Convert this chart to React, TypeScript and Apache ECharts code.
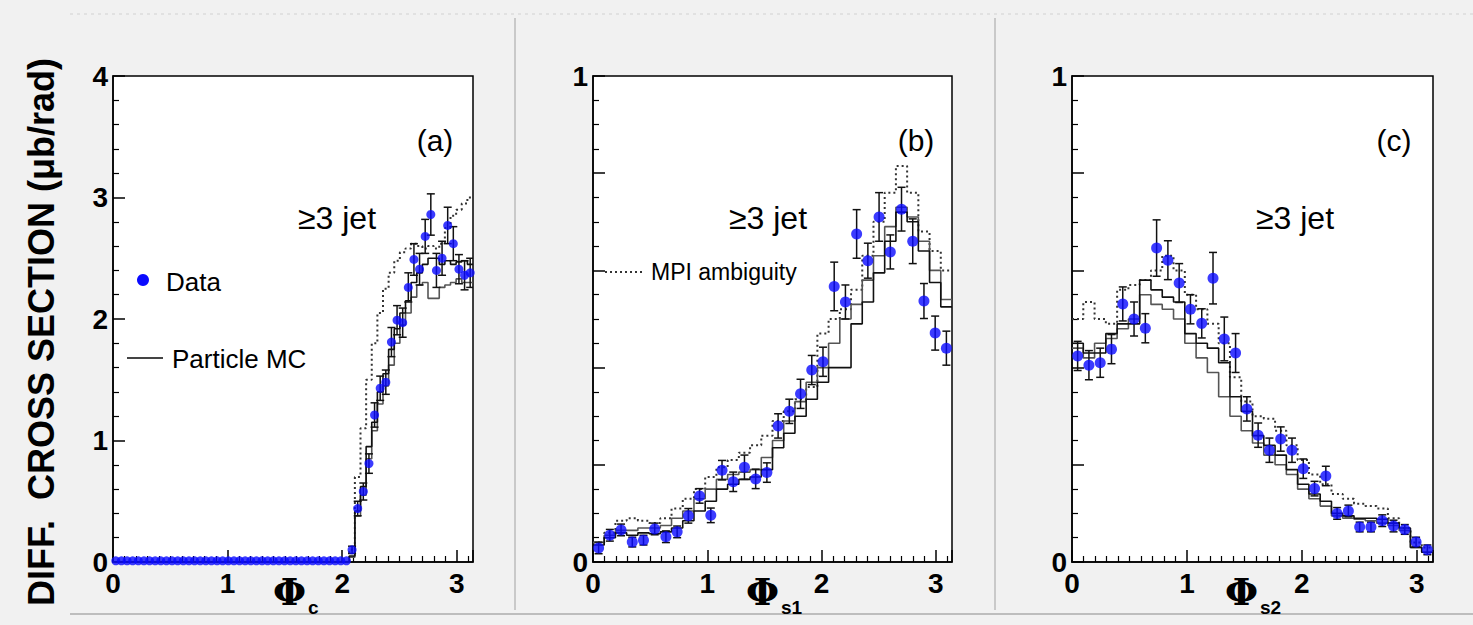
import React, { useEffect, useRef } from "react";
import * as echarts from "echarts";

const PHI_MAX = Math.PI;

// ---- panel (a): Phi_c, 64 bins ----
const dataA = [
  0.01, 0.01, 0.01, 0.01, 0.01, 0.01, 0.01, 0.01, 0.01, 0.01,
  0.01, 0.01, 0.01, 0.01, 0.01, 0.01, 0.01, 0.01, 0.01, 0.01,
  0.01, 0.01, 0.01, 0.01, 0.01, 0.01, 0.01, 0.01, 0.01, 0.01,
  0.01, 0.01, 0.01, 0.01, 0.01, 0.01, 0.01, 0.01, 0.01, 0.01,
  0.01, 0.01, 0.10, 0.44, 0.58, 0.81, 1.21, 1.43, 1.48, 1.81,
  1.99, 1.97, 2.26, 2.49, 2.41, 2.68, 2.86, 2.40, 2.50, 2.77,
  2.62, 2.41, 2.36, 2.38,
];
const errA = [
  0, 0, 0, 0, 0, 0, 0, 0, 0, 0,
  0, 0, 0, 0, 0, 0, 0, 0, 0, 0,
  0, 0, 0, 0, 0, 0, 0, 0, 0, 0,
  0, 0, 0, 0, 0, 0, 0, 0, 0, 0,
  0, 0, 0.03, 0.06, 0.07, 0.08, 0.10, 0.10, 0.10, 0.12,
  0.12, 0.12, 0.12, 0.13, 0.13, 0.14, 0.17, 0.14, 0.14, 0.15,
  0.14, 0.12, 0.12, 0.12,
];
const mcA = [
  0, 0, 0, 0, 0, 0, 0, 0, 0, 0,
  0, 0, 0, 0, 0, 0, 0, 0, 0, 0,
  0, 0, 0, 0, 0, 0, 0, 0, 0, 0,
  0, 0, 0, 0, 0, 0, 0, 0, 0, 0,
  0, 0, 0.05, 0.42, 0.62, 0.95, 1.15, 1.40, 1.55, 1.75,
  1.92, 2.05, 2.15, 2.30, 2.38, 2.45, 2.50, 2.50, 2.45, 2.48,
  2.45, 2.47, 2.48, 2.45,
];
const mc2A = [
  0, 0, 0, 0, 0, 0, 0, 0, 0, 0,
  0, 0, 0, 0, 0, 0, 0, 0, 0, 0,
  0, 0, 0, 0, 0, 0, 0, 0, 0, 0,
  0, 0, 0, 0, 0, 0, 0, 0, 0, 0,
  0, 0, 0.04, 0.38, 0.55, 0.85, 1.08, 1.30, 1.45, 1.62,
  1.80, 1.95, 2.05, 2.18, 2.28, 2.30, 2.17, 2.17, 2.26, 2.28,
  2.30, 2.33, 2.30, 2.30,
];
const mpiA = [
  0, 0, 0, 0, 0, 0, 0, 0, 0, 0,
  0, 0, 0, 0, 0, 0, 0, 0, 0, 0,
  0, 0, 0, 0, 0, 0, 0, 0, 0, 0,
  0, 0, 0, 0, 0, 0, 0, 0, 0, 0,
  0, 0, 0.10, 0.70, 1.10, 1.50, 1.80, 2.05, 2.25, 2.38,
  2.48, 2.55, 2.58, 2.62, 2.60, 2.58, 2.60, 2.58, 2.62, 2.75,
  2.85, 2.90, 2.95, 3.00,
];

// ---- panel (b): Phi_s1, 32 bins ----
const dataB = [
  0.029, 0.055, 0.066, 0.041, 0.045, 0.068, 0.052, 0.062, 0.095, 0.136,
  0.096, 0.189, 0.165, 0.195, 0.171, 0.184, 0.28, 0.31, 0.346, 0.395,
  0.412, 0.567, 0.535, 0.675, 0.62, 0.71, 0.638, 0.726, 0.66, 0.537,
  0.471, 0.44,
];
const errB = [
  0.012, 0.012, 0.012, 0.01, 0.01, 0.012, 0.012, 0.012, 0.015, 0.015,
  0.015, 0.02, 0.02, 0.025, 0.02, 0.02, 0.025, 0.025, 0.03, 0.03,
  0.03, 0.05, 0.035, 0.05, 0.036, 0.05, 0.035, 0.045, 0.046, 0.036,
  0.035, 0.035,
];
const mcB = [
  0.035, 0.05, 0.06, 0.055, 0.06, 0.058, 0.062, 0.07, 0.085, 0.105,
  0.125, 0.15, 0.16, 0.17, 0.175, 0.19, 0.235, 0.265, 0.30, 0.335,
  0.37, 0.40, 0.40, 0.49, 0.535, 0.595, 0.66, 0.72, 0.70, 0.64,
  0.575, 0.525,
];
const mc2B = [
  0.04, 0.055, 0.065, 0.065, 0.07, 0.07, 0.075, 0.09, 0.105, 0.13,
  0.15, 0.17, 0.18, 0.185, 0.19, 0.215, 0.25, 0.29, 0.33, 0.37,
  0.40, 0.45, 0.50, 0.53, 0.58, 0.63, 0.69, 0.73, 0.71, 0.66,
  0.60, 0.54,
];
const mpiB = [
  0.04, 0.06, 0.085, 0.09, 0.085, 0.08, 0.09, 0.11, 0.13, 0.15,
  0.175, 0.195, 0.21, 0.225, 0.24, 0.26, 0.29, 0.31, 0.335, 0.36,
  0.47, 0.50, 0.52, 0.56, 0.63, 0.70, 0.76, 0.815, 0.76, 0.68,
  0.64, 0.60,
];

// ---- panel (c): Phi_s2, 32 bins ----
const dataC = [
  0.424, 0.405, 0.41, 0.438, 0.531, 0.50, 0.481, 0.646, 0.621, 0.574,
  0.52, 0.491, 0.584, 0.459, 0.43, 0.315, 0.261, 0.23, 0.253, 0.23,
  0.192, 0.151, 0.177, 0.10, 0.105, 0.072, 0.072, 0.085, 0.074, 0.067,
  0.041, 0.025,
];
const errC = [
  0.03, 0.03, 0.03, 0.03, 0.035, 0.035, 0.03, 0.058, 0.04, 0.04,
  0.03, 0.03, 0.053, 0.045, 0.04, 0.025, 0.025, 0.025, 0.025, 0.025,
  0.02, 0.015, 0.02, 0.012, 0.012, 0.01, 0.01, 0.012, 0.012, 0.01,
  0.01, 0.01,
];
const mcC = [
  0.45, 0.43, 0.43, 0.47, 0.49, 0.49, 0.58, 0.56, 0.545, 0.535,
  0.47, 0.45, 0.44, 0.41, 0.34, 0.31, 0.26, 0.24, 0.22, 0.19,
  0.16, 0.14, 0.125, 0.10, 0.095, 0.09, 0.09, 0.088, 0.08, 0.07,
  0.03, 0.02,
];
const mc2C = [
  0.44, 0.42, 0.45, 0.46, 0.48, 0.50, 0.55, 0.53, 0.52, 0.50,
  0.45, 0.42, 0.39, 0.34, 0.30, 0.27, 0.245, 0.22, 0.20, 0.18,
  0.15, 0.13, 0.115, 0.095, 0.09, 0.088, 0.085, 0.08, 0.075, 0.065,
  0.03, 0.02,
];
const mpiC = [
  0.50, 0.535, 0.50, 0.49, 0.56, 0.57, 0.58, 0.60, 0.63, 0.60,
  0.55, 0.52, 0.49, 0.45, 0.38, 0.33, 0.30, 0.295, 0.27, 0.24,
  0.21, 0.18, 0.16, 0.14, 0.13, 0.12, 0.115, 0.11, 0.09, 0.07,
  0.04, 0.03,
];

const Y_TICKS_A = [0, 1, 2, 3, 4];
const Y_TICKS_BC = [0, 1];
const X_TICKS = [0, 1, 2, 3];

const FONT = '"Liberation Sans", Arial, sans-serif';
const BLUE = "#0a0aff";

// histogram outline: one point per left bin edge plus the closing edge
function stepPoints(values: number[]) {
  const w = PHI_MAX / values.length;
  const pts = values.map((v, i) => [i * w, v]);
  pts.push([PHI_MAX, values[values.length - 1]]);
  return pts;
}
function centerPoints(values: number[]) {
  const w = PHI_MAX / values.length;
  return values.map((v, i) => [(i + 0.5) * w, v]);
}
function errorRows(values: number[], errs: number[]) {
  const w = PHI_MAX / values.length;
  const rows: number[][] = [];
  values.forEach((v, i) => {
    if (errs[i] > 0) rows.push([(i + 0.5) * w, v - errs[i], v + errs[i]]);
  });
  return rows;
}

function errorRender(params: any, api: any) {
  const x = api.value(0);
  const lo = api.coord([x, api.value(1)]);
  const hi = api.coord([x, api.value(2)]);
  const cap = 4;
  const style = { stroke: "#111", lineWidth: 1.5 };
  return {
    type: "group",
    children: [
      { type: "line", shape: { x1: lo[0], y1: lo[1], x2: hi[0], y2: hi[1] }, style },
      { type: "line", shape: { x1: hi[0] - cap, y1: hi[1], x2: hi[0] + cap, y2: hi[1] }, style },
      { type: "line", shape: { x1: lo[0] - cap, y1: lo[1], x2: lo[0] + cap, y2: lo[1] }, style },
    ],
  };
}

function panelSeries(idx: number, data: number[], err: number[], mc: number[], mc2: number[], mpi: number[], symbolSize: number) {
  const common = { xAxisIndex: idx, yAxisIndex: idx, silent: true };
  return [
    {
      ...common,
      type: "line",
      step: "end",
      data: stepPoints(mpi),
      symbol: "none",
      lineStyle: { color: "#333", width: 2, type: [2, 3] },
      z: 2,
    },
    {
      ...common,
      type: "line",
      step: "end",
      data: stepPoints(mc2),
      symbol: "none",
      lineStyle: { color: "#555", width: 1.6 },
      z: 2,
    },
    {
      ...common,
      type: "line",
      step: "end",
      data: stepPoints(mc),
      symbol: "none",
      lineStyle: { color: "#111", width: 1.6 },
      z: 3,
    },
    {
      ...common,
      type: "custom",
      renderItem: errorRender,
      data: errorRows(data, err),
      encode: { x: 0, y: [1, 2] },
      clip: true,
      z: 4,
    },
    {
      ...common,
      type: "scatter",
      data: centerPoints(data),
      symbol: "circle",
      symbolSize,
      itemStyle: { color: BLUE },
      z: 5,
    },
  ];
}

const GRIDS = [
  { left: 113, top: 76, width: 360, height: 486 },
  { left: 593, top: 76, width: 359, height: 486 },
  { left: 1072, top: 76, width: 361, height: 486 },
];

function xAxisFor(idx: number) {
  return {
    gridIndex: idx,
    type: "value",
    min: 0,
    max: PHI_MAX,
    interval: 1,
    axisLine: { show: true, lineStyle: { color: "#000", width: 1.5 } },
    axisTick: { show: true, inside: true, length: 12, lineStyle: { color: "#000", width: 1.5 } },
    minorTick: { show: true, splitNumber: 10, length: 6, lineStyle: { color: "#000", width: 1.2 } },
    splitLine: { show: false },
    axisLabel: {
      color: "#000",
      fontSize: 28,
      fontWeight: "bold",
      fontFamily: FONT,
      margin: 7,
      formatter: (v: number) => (X_TICKS.includes(v) ? String(v) : ""),
    },
  };
}

function yAxisFor(idx: number, max: number, interval: number, minorSplit: number, labels: number[]) {
  return {
    gridIndex: idx,
    type: "value",
    min: 0,
    max,
    interval,
    axisLine: { show: true, lineStyle: { color: "#000", width: 1.5 } },
    axisTick: { show: true, inside: true, length: 12, lineStyle: { color: "#000", width: 1.5 } },
    minorTick: { show: true, splitNumber: minorSplit, length: 6, lineStyle: { color: "#000", width: 1.2 } },
    splitLine: { show: false },
    axisLabel: {
      color: "#000",
      fontSize: 28,
      fontWeight: "bold",
      fontFamily: FONT,
      margin: 5,
      formatter: (v: number) => {
        const r = Math.round(v * 1000) / 1000;
        return labels.includes(r) ? String(r) : "";
      },
    },
  };
}

function txt(text: string, x: number, y: number, size: number, opts: any = {}) {
  return {
    type: "text",
    x,
    y,
    rotation: opts.rotation || 0,
    z: 100,
    style: {
      text,
      x: 0,
      y: 0,
      fill: opts.fill || "#000",
      font: `${opts.weight || "normal"} ${size}px ${opts.family || FONT}`,
      align: opts.align || "center",
      textAlign: opts.align || "center",
      verticalAlign: "middle",
      textVerticalAlign: "middle",
    },
  };
}

// axis title: a bold Phi with a bold subscript set just to its lower right
function axisTitle(left: number, sub: string) {
  return [
    txt("Φ", left, 591, 38, { weight: "bold", family: '"DejaVu Serif", serif', align: "left" }),
    txt(sub, left + 35, 607, 19, { weight: "bold", align: "left" }),
  ];
}

export default function App() {
  const ref = useRef<HTMLDivElement>(null);

  useEffect(() => {
    document.body.style.margin = "0";
    if (!ref.current) return;
    const chart = echarts.init(ref.current, undefined, { renderer: "svg" });

    const graphic: any[] = [
      // frame decorations around the panels
      { type: "line", shape: { x1: 515, y1: 18, x2: 515, y2: 610 }, style: { stroke: "#c9c9c9", lineWidth: 2 }, z: 0 },
      { type: "line", shape: { x1: 995, y1: 18, x2: 995, y2: 610 }, style: { stroke: "#c9c9c9", lineWidth: 2 }, z: 0 },
      { type: "line", shape: { x1: 70, y1: 614, x2: 1473, y2: 614 }, style: { stroke: "#bdbdbd", lineWidth: 2 }, z: 0 },
      { type: "line", shape: { x1: 70, y1: 14, x2: 1473, y2: 14 }, style: { stroke: "#dcdcdc", lineWidth: 1.5, lineDash: [3, 4] }, z: 0 },

      txt("DIFF.  CROSS SECTION (μb/rad)", 41, 332, 36, { weight: "bold", rotation: Math.PI / 2 }),

      // panel (a)
      txt("(a)", 435, 140, 30),
      txt("≥3 jet", 337, 218, 32),
      { type: "circle", shape: { cx: 143, cy: 280, r: 6 }, style: { fill: BLUE }, z: 100 },
      txt("Data", 166, 282, 26, { align: "left" }),
      { type: "line", shape: { x1: 127, y1: 358, x2: 163, y2: 358 }, style: { stroke: "#444", lineWidth: 2 }, z: 100 },
      txt("Particle MC", 172, 359, 26, { align: "left" }),
      ...axisTitle(273, "c"),

      // panel (b)
      txt("(b)", 916, 140, 30),
      txt("≥3 jet", 768, 218, 32),
      { type: "line", shape: { x1: 605, y1: 272, x2: 642, y2: 272 }, style: { stroke: "#333", lineWidth: 2, lineDash: [2, 3] }, z: 100 },
      txt("MPI ambiguity", 651, 272, 23, { align: "left" }),
      ...axisTitle(746, "s1"),

      // panel (c)
      txt("(c)", 1394, 140, 30),
      txt("≥3 jet", 1295, 218, 32),
      ...axisTitle(1225, "s2"),
    ];

    chart.setOption({
      animation: false,
      backgroundColor: "#f1f1f1",
      grid: GRIDS.map((g) => ({
        ...g,
        show: true,
        backgroundColor: "#ffffff",
        borderColor: "#000",
        borderWidth: 1.5,
        containLabel: false,
      })),
      xAxis: [xAxisFor(0), xAxisFor(1), xAxisFor(2)],
      yAxis: [
        yAxisFor(0, 4, 1, 5, Y_TICKS_A),
        yAxisFor(1, 1, 0.2, 4, Y_TICKS_BC),
        yAxisFor(2, 1, 0.2, 4, Y_TICKS_BC),
      ],
      series: [
        ...panelSeries(0, dataA, errA, mcA, mc2A, mpiA, 9),
        ...panelSeries(1, dataB, errB, mcB, mc2B, mpiB, 11),
        ...panelSeries(2, dataC, errC, mcC, mc2C, mpiC, 11),
      ],
      graphic,
    });

    return () => chart.dispose();
  }, []);

  return <div ref={ref} style={{ width: 1473, height: 625 }} />;
}
